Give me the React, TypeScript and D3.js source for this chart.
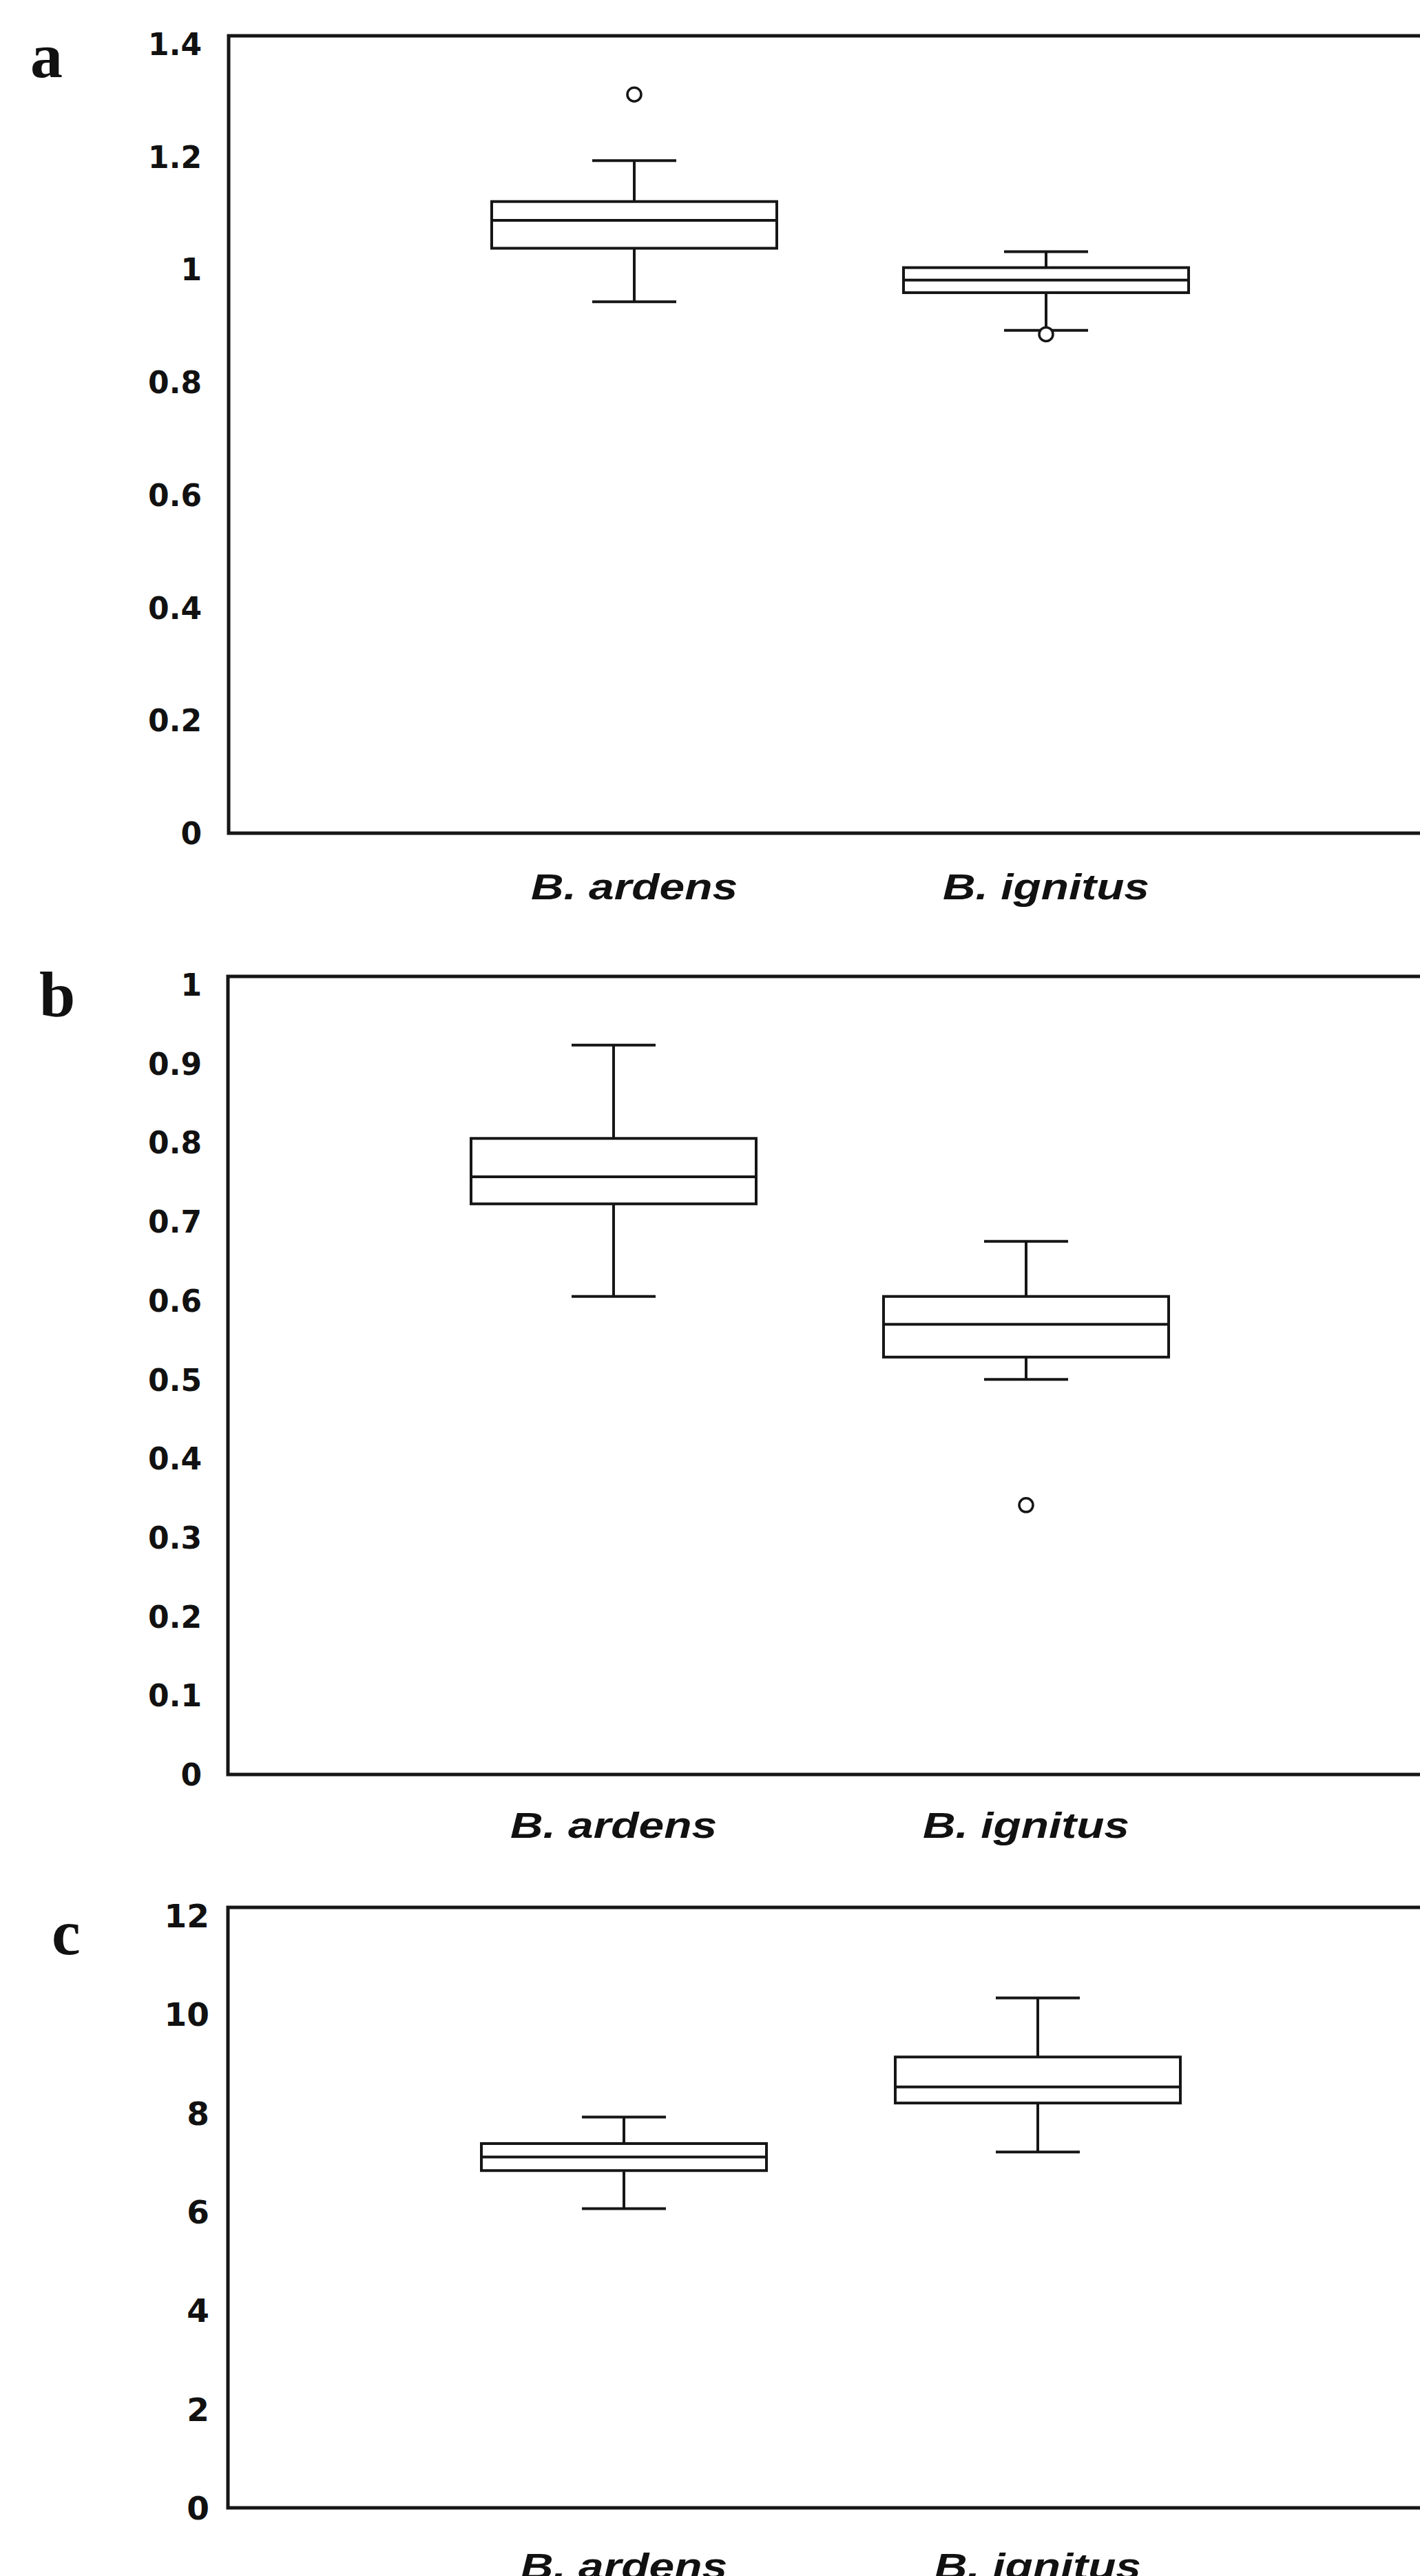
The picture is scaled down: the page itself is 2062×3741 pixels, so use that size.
import React, { useRef, useEffect } from "react";
import * as d3 from "d3";

const WIDTH = 2062;
const HEIGHT = 3741;

const CATEGORIES = ["B. ardens", "B. ignitus"];

// each row: [lower whisker, Q1, median, Q3, upper whisker]
const A_STATS = [
  [0.933, 1.027, 1.076, 1.109, 1.181],
  [0.883, 0.949, 0.971, 0.993, 1.021],
];
const A_OUTLIERS = [[1.297], [0.876]];
const A_TICKS = [0, 0.2, 0.4, 0.6, 0.8, 1, 1.2, 1.4];

const B_STATS = [
  [0.599, 0.715, 0.749, 0.797, 0.914],
  [0.495, 0.523, 0.564, 0.599, 0.668],
];
const B_OUTLIERS = [[], [0.3375]];
const B_TICKS = [0, 0.1, 0.2, 0.3, 0.4, 0.5, 0.6, 0.7, 0.8, 0.9, 1];

const C_STATS = [
  [5.98, 6.74, 7.01, 7.28, 7.81],
  [7.11, 8.09, 8.41, 9.01, 10.19],
];
const C_OUTLIERS = [[], []];
const C_TICKS = [0, 2, 4, 6, 8, 10, 12];

// layout only (pixel positions of each panel on the page)
const PANELS = [
  { letter: "a", stats: A_STATS, outliers: A_OUTLIERS, ticks: A_TICKS,
    top: 52, bottom: 1210, left: 332, centers: [921, 1519],
    catY: 1306, letterX: 44, letterY: 112, tickRight: 293, tickSize: 44 },
  { letter: "b", stats: B_STATS, outliers: B_OUTLIERS, ticks: B_TICKS,
    top: 1418, bottom: 2577, left: 331, centers: [891, 1490],
    catY: 2669, letterX: 57, letterY: 1476, tickRight: 293, tickSize: 44 },
  { letter: "c", stats: C_STATS, outliers: C_OUTLIERS, ticks: C_TICKS,
    top: 2770, bottom: 3642, left: 331, centers: [906, 1507],
    catY: 3745, letterX: 75, letterY: 2838, tickRight: 304, tickSize: 47 },
];

const BOX_W = 414;
const CAP_W = 122;
const STROKE = "#161616";

export default function App() {
  const svgRef = useRef<SVGSVGElement>(null);

  useEffect(() => {
    const svg = d3.select(svgRef.current);
    svg.selectAll("*").remove();

    svg.append("rect").attr("width", WIDTH).attr("height", HEIGHT).attr("fill", "#fff");

    PANELS.forEach((p) => {
      const g = svg.append("g");
      const yMax = p.ticks[p.ticks.length - 1];
      const y = d3.scaleLinear().domain([0, yMax]).range([p.bottom, p.top]);
      const x = d3.scalePoint<string>().domain(CATEGORIES).range(p.centers as [number, number]);

      // frame (right side runs off the page, as in the original)
      g.append("rect")
        .attr("x", p.left)
        .attr("y", p.top)
        .attr("width", WIDTH - p.left + 40)
        .attr("height", p.bottom - p.top)
        .attr("fill", "none")
        .attr("stroke", STROKE)
        .attr("stroke-width", 5);

      // y tick labels (no tick marks)
      p.ticks.forEach((t) => {
        const cy = y(t) + 12 * (t / yMax);
        g.append("text")
          .attr("x", p.tickRight)
          .attr("y", cy + 0.364 * p.tickSize)
          .attr("text-anchor", "end")
          .attr("font-family", "DejaVu Sans")
          .attr("font-weight", "bold")
          .attr("font-size", p.tickSize)
          .attr("fill", "#111")
          .text(String(+t.toFixed(1)));
      });

      // panel letter
      g.append("text")
        .attr("x", p.letterX)
        .attr("y", p.letterY)
        .attr("font-family", "Liberation Serif")
        .attr("font-weight", "bold")
        .attr("font-size", 94)
        .attr("fill", "#111")
        .text(p.letter);

      CATEGORIES.forEach((cat, i) => {
        const [lo, q1, med, q3, hi] = p.stats[i];
        const cx = x(cat) as number;

        // whiskers
        g.append("line")
          .attr("x1", cx).attr("x2", cx)
          .attr("y1", y(q3)).attr("y2", y(hi))
          .attr("stroke", STROKE).attr("stroke-width", 4);
        g.append("line")
          .attr("x1", cx).attr("x2", cx)
          .attr("y1", y(q1)).attr("y2", y(lo))
          .attr("stroke", STROKE).attr("stroke-width", 4);
        [lo, hi].forEach((v) => {
          g.append("line")
            .attr("x1", cx - CAP_W / 2).attr("x2", cx + CAP_W / 2)
            .attr("y1", y(v)).attr("y2", y(v))
            .attr("stroke", STROKE).attr("stroke-width", 4);
        });

        // box + median
        g.append("rect")
          .attr("x", cx - BOX_W / 2)
          .attr("y", y(q3))
          .attr("width", BOX_W)
          .attr("height", y(q1) - y(q3))
          .attr("fill", "#fff")
          .attr("stroke", STROKE)
          .attr("stroke-width", 4);
        g.append("line")
          .attr("x1", cx - BOX_W / 2).attr("x2", cx + BOX_W / 2)
          .attr("y1", y(med)).attr("y2", y(med))
          .attr("stroke", STROKE).attr("stroke-width", 4);

        // outliers
        p.outliers[i].forEach((v) => {
          g.append("circle")
            .attr("cx", cx)
            .attr("cy", y(v))
            .attr("r", 10)
            .attr("fill", "#fff")
            .attr("stroke", STROKE)
            .attr("stroke-width", 3.5);
        });

        // category label (wide bold italic)
        g.append("text")
          .attr("x", cx)
          .attr("y", p.catY)
          .attr("text-anchor", "middle")
          .attr("font-family", "Liberation Sans")
          .attr("font-weight", "bold")
          .attr("font-style", "italic")
          .attr("font-size", 51)
          .attr("textLength", 300)
          .attr("lengthAdjust", "spacingAndGlyphs")
          .attr("fill", "#111")
          .text(cat);
      });
    });
  }, []);

  return (
    <div style={{ position: "absolute", left: 0, top: 0 }}>
      <svg ref={svgRef} width={WIDTH} height={HEIGHT} style={{ display: "block" }} />
    </div>
  );
}
